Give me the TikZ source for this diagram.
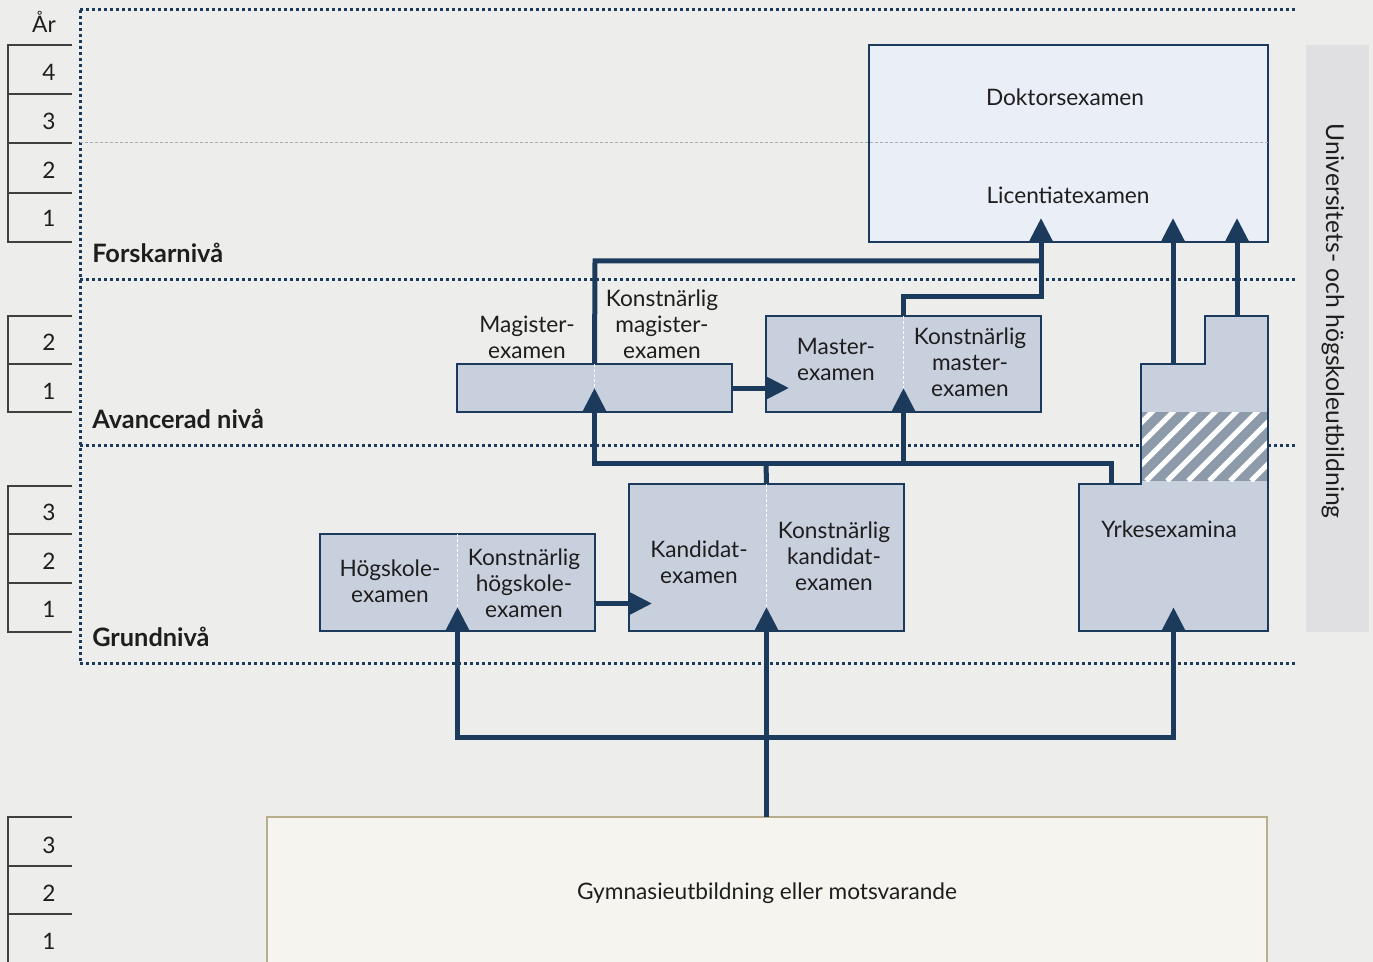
\documentclass[tikz,border=0pt]{standalone}
\usepackage{fontspec}
\setmainfont{Lato}
\usetikzlibrary{arrows.meta,fit,calc}

\definecolor{navy}{HTML}{1B3A5C}
\definecolor{bgcol}{HTML}{EDEDEB}
\definecolor{boxfill}{HTML}{C9D0DD}
\definecolor{dokfill}{HTML}{EAEEF6}
\definecolor{barfill}{HTML}{E0E0E2}
\definecolor{gymfill}{HTML}{F5F4EF}
\definecolor{gymline}{HTML}{B8AE8C}
\definecolor{hatchgray}{HTML}{8C9AAA}
\definecolor{thingray}{HTML}{A8ADB4}
\definecolor{txt}{HTML}{1E1E1E}

\tikzset{
  conn/.style={draw=navy, line width=3.75pt},
  arrowed/.style={-{Triangle[length=17.25pt,width=16.5pt]}},
  backarrowed/.style={{Triangle[length=17.25pt,width=16.5pt]}-},
  botharrowed/.style={{Triangle[length=17.25pt,width=16.5pt]}-{Triangle[length=17.25pt,width=16.5pt]}},
  box/.style={draw=navy, line width=1pt, fill=boxfill, inner sep=0pt, outer sep=0pt},
  lbl/.style={align=center, text=txt, inner sep=0.75pt, font=\fontsize{17}{19.5}\selectfont},
  lvl/.style={anchor=west, text=txt, inner sep=0.75pt, font=\fontsize{19}{22}\selectfont\bfseries},
  levelline/.style={draw=navy, line width=2.25pt, dash pattern=on 2.25pt off 2.25pt},
  divider/.style={draw=white, line width=0.75pt, dash pattern=on 2.25pt off 1.5pt},
  yearline/.style={draw=txt!85, line width=1.1pt},
}

\begin{document}
\begin{tikzpicture}[x=0.75pt,y=0.75pt,yscale=-1,xscale=1]
\useasboundingbox (0,0) rectangle (1373,962);
\fill[bgcol] (0,0) rectangle (1373,962);

%Level lines
\draw[levelline] (80,10) -- (1297,10);
\draw[levelline] (80,280) -- (1297,280);
\draw[levelline] (80,445) -- (1297,445);
\draw[levelline] (80,663) -- (1297,663);
\draw[levelline] (80,10) -- (80,663);

%Year scale
\draw[yearline] (72,45) -- (8,45) -- (8,242) -- (72,242);
\draw[yearline] (8,94) -- (72,94);
\draw[yearline] (8,143) -- (72,143);
\draw[yearline] (8,193) -- (72,193);
\draw[yearline] (72,316) -- (8,316) -- (8,412) -- (72,412);
\draw[yearline] (8,364) -- (72,364);
\draw[yearline] (72,486) -- (8,486) -- (8,632) -- (72,632);
\draw[yearline] (8,534) -- (72,534);
\draw[yearline] (8,583) -- (72,583);
\draw[yearline] (72,817) -- (8,817) -- (8,970);
\draw[yearline] (8,866) -- (72,866);
\draw[yearline] (8,914) -- (72,914);

% Text Node
\node[lbl] (ar) at (44,22) {År};
\node[lbl] (f4) at (49,72) {4};
\node[lbl] (f3) at (49,121) {3};
\node[lbl] (f2) at (49,170) {2};
\node[lbl] (f1) at (49,218) {1};
\node[lbl] (a2) at (49,342) {2};
\node[lbl] (a1) at (49,391) {1};
\node[lbl] (g3) at (49,512) {3};
\node[lbl] (g2) at (49,561) {2};
\node[lbl] (g1) at (49,609) {1};
\node[lbl] (s3) at (49,845) {3};
\node[lbl] (s2) at (49,893) {2};
\node[lbl] (s1) at (49,941) {1};

% Level names
\node[lvl] (forsk) at (91,253) {Forskarnivå};
\node[lvl] (avanc) at (91,419) {Avancerad nivå};
\node[lvl] (grund) at (91,637) {Grundnivå};

%Side bar
\node[fill=barfill, inner sep=0pt, fit={(1306,45) (1369,632)}] (bar) {};
\node[lbl, rotate=-90, font=\fontsize{18.5}{22}\selectfont] (bartext) at (1333,321) {Universitets- och högskoleutbildning};

%Boxes
\node[box, fill=dokfill, fit={(869,45) (1268,242)}] (dok) {};
\draw[thingray, line width=0.75pt, dash pattern=on 2.25pt off 1.5pt] (80,143) -- (dok.east |- 0,143);
\node[box, fit={(457,364) (732,412)}] (mag) {};
\node[box, fit={(766,316) (1041,412)}] (mas) {};
\node[box, fit={(320,534) (595,631)}] (hog) {};
\node[box, fit={(629,484) (904,631)}] (kand) {};
\node[box, draw=gymline, fill=gymfill, fit={(267,817) (1267,985)}] (gym) {};
\draw[divider] (mag.north) -- (mag.south);
\draw[divider] (mas.north) -- (mas.south);
\draw[divider] (hog.north) -- (hog.south);
\draw[divider] (kand.north) -- (kand.south);

%Yrkesexamina, stepped column with hatch
\fill[boxfill] (1079,631) -- (1079,484) -- (1141,484) -- (1141,364) -- (1205,364) -- (1205,316) -- (1268,316) -- (1268,631) -- cycle;
\begin{scope}
\clip (1141,412) rectangle (1268,481);
\fill[hatchgray] (1141,412) rectangle (1268,481);
\foreach \i in {0,...,10}
  \draw[white, line width=3.75pt] (1062+\i*21,481) -- ++(100,-100);
\end{scope}
\draw[navy, line width=1pt] (1079,631) -- (1079,484) -- (1141,484) -- (1141,364) -- (1205,364) -- (1205,316) -- (1268,316) -- (1268,631) -- cycle;
\node[inner sep=0pt, fit={(1079,484) (1268,631)}] (yrk) {};
\coordinate (yrkmid) at (1173,364);
\coordinate (yrktop) at (1237,316);
\coordinate (yrkleft) at (1111,484);

% Text Node
\node[lbl] (dokT) at (1065,97) {Doktorsexamen};
\node[lbl] (licT) at (1068,195) {Licentiatexamen};
\node[lbl] (magT) at (527,337) {Magister-\\examen};
\node[lbl] (kmagT) at (662,324) {Konstnärlig\\magister-\\examen};
\node[lbl] (masT) at (836,359) {Master-\\examen};
\node[lbl] (kmasT) at (970,362) {Konstnärlig\\master-\\examen};
\node[lbl] (hogT) at (390,581) {Högskole-\\examen};
\node[lbl] (khogT) at (524,583) {Konstnärlig\\högskole-\\examen};
\node[lbl] (kandT) at (699,562) {Kandidat-\\examen};
\node[lbl] (kkandT) at (834,556) {Konstnärlig\\kandidat-\\examen};
\node[lbl] (yrkT) at (1169,529) {Yrkesexamina};
\node[lbl] (gymT) at (767,893) {Gymnasieutbildning eller motsvarande};

%Connectors
\coordinate (fork) at (766,737);
\coordinate (upfork) at (766,463);
\coordinate (rowA) at (595,261);
\coordinate (rowB) at (903,297);
\draw[conn, arrowed] (kand.south |- gym.north) -- ($(kand.south)+(0,-24)$);
\draw[conn, botharrowed] ($(hog.south)+(0,-24)$) -- (hog.south |- fork) -- (yrk.south |- fork) -- ($(yrk.south)+(0,-24)$);
\draw[conn, arrowed] ($(hog.east)+(0,21)$) -- ($(kand.west |- hog.east)+(23,21)$);
\draw[conn, arrowed] (mag.east) -- ($(mas.west |- mag.east)+(23,0)$);
\draw[conn] (kand.north) -- (upfork);
\draw[conn, backarrowed] ($(mag.south)+(0,-24)$) -- (mag.south |- upfork) -- (yrkleft |- upfork) -- (yrkleft);
\draw[conn, arrowed] (mas.south |- upfork) -- ($(mas.south)+(0,-24)$);
\draw[conn] (mag.north) -- (rowA) -- (mas.east |- rowA);
\draw[conn, arrowed] (mas.north) -- (mas.north |- rowB) -- (mas.east |- rowB) -- ($(mas.east |- dok.south)+(0,-24)$);
\draw[conn, arrowed] (yrkmid) -- ($(yrkmid |- dok.south)+(0,-24)$);
\draw[conn, arrowed] (yrktop) -- ($(yrktop |- dok.south)+(0,-24)$);
\end{tikzpicture}
\end{document}
